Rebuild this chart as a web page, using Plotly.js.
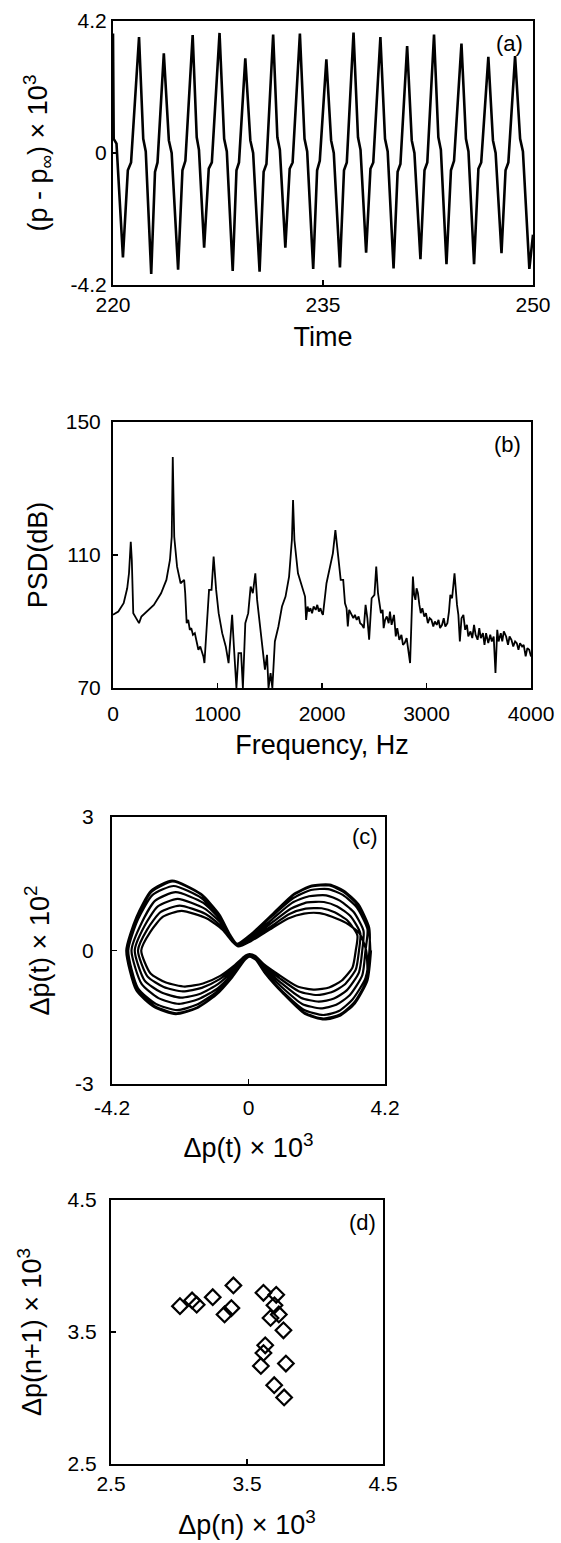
<!DOCTYPE html>
<html>
<head>
<meta charset="utf-8">
<script src="https://cdn.plot.ly/plotly-3.0.1.min.js"></script>
<style>html,body{margin:0;padding:0;background:#fff;}#chart{width:561px;height:1543px;}</style>
</head>
<body>
<div id="chart"></div>
<script>
// ---------- Panel (a): pressure time series ----------
const timeT = [220.00,220.05,220.25,220.71,221.06,221.29,221.86,222.16,222.34,222.73,223.00,223.18,223.63,223.99,224.19,224.65,224.96,225.17,225.69,225.98,226.14,226.51,226.84,227.06,227.61,227.94,228.13,228.55,228.82,229.00,229.45,229.81,230.01,230.47,230.76,230.96,231.44,231.74,231.92,232.31,232.62,232.83,233.35,233.68,233.87,234.30,234.58,234.77,235.24,235.58,235.77,236.21,236.50,236.70,237.18,237.50,237.68,238.08,238.39,238.59,239.10,239.43,239.62,240.04,240.33,240.53,241.01,241.34,241.53,241.96,242.25,242.45,242.93,243.24,243.42,243.82,244.14,244.36,244.89,245.21,245.39,245.79,246.10,246.30,246.81,247.14,247.33,247.75,248.04,248.24,248.72,249.08,249.28,249.74,250.00];
const timeP = [3.80,0.45,0.30,-3.32,-0.55,-0.30,3.69,0.45,0.05,-3.85,-0.60,-0.30,3.17,0.40,0.00,-3.71,-0.55,-0.25,3.75,0.50,0.10,-3.01,-0.50,-0.30,3.82,0.45,0.05,-3.75,-0.55,-0.30,3.01,0.40,0.00,-3.78,-0.60,-0.35,3.77,0.50,0.10,-3.01,-0.50,-0.30,3.80,0.45,0.05,-3.69,-0.55,-0.25,2.98,0.40,0.00,-3.64,-0.55,-0.30,3.83,0.50,0.10,-3.17,-0.50,-0.30,3.69,0.45,0.05,-3.67,-0.60,-0.35,3.40,0.40,0.00,-3.38,-0.55,-0.30,3.77,0.50,0.10,-3.54,-0.55,-0.25,3.48,0.45,0.05,-3.54,-0.50,-0.30,3.06,0.40,0.00,-3.19,-0.55,-0.30,3.08,0.45,0.05,-3.69,-2.60];
const timeTicks = [220, 235, 250];
const pTicks = [-4.2, 0, 4.2];
const pTickText = ["-4.2", "0", "4.2"];

// ---------- Panel (b): power spectral density ----------
const freqHz = [
 0,51,102,136,153,170,180,194,221,249,272,323,391,460,511,545,562,572,586,613,647,681,691,
 705,720,735,749,765,783,800,817,835,851,865,875,902,919,943,963,987,1011,1045,1079,1106,1123,1140,1157,1181,1201,1226,1243,
 1266,1294,1317,1338,1362,1379,1406,1430,1454,1474,1488,1508,1525,1549,1583,1617,1651,1685,1712,1723,1736,1770,1815,
 1838,1848,1862,1875,1889,1905,1920,1940,1955,1970,1985,2000,2009,2043,2077,2104,2128,2155,2179,2203,
 2220,2235,2247,2260,2281,2300,2315,2332,2350,2365,2383,2400,2417,2434,2451,2462,2475,2502,2519,2536,2550,2564,2580,2590,
 2604,2620,2638,2650,2666,2680,2689,2706,2720,2740,2760,2775,2791,2810,2826,2843,2856,2870,2882,2894,2905,2918,2932,2945,
 2960,2979,2995,3013,3030,3047,3065,3080,3098,3115,3130,3149,3165,3180,3200,3215,3228,3245,3268,3280,3292,3305,3319,3335,
 3353,3370,3387,3400,3421,3438,3455,3470,3489,3505,3520,3540,3555,3570,3591,3610,3625,3643,3660,3677,3690,3711,3725,3740,
 3762,3780,3795,3813,3830,3848,3864,3880,3895,3915,3930,3949,3965,3983,4000];
const psdDb = [
 92,93,95.5,100,104.5,114,108.5,92.5,91,89.5,91.5,93,95,98.5,102.5,108.5,115.5,139.5,115.5,106.5,101.5,102.5,98.5,
 89.5,90.5,87.5,88,86,86.5,84,81.5,82.5,81,79.5,77.5,92.5,99.5,99.5,109.5,99.5,92.5,86.5,82.5,77.5,83.5,92,82.5,70,80.5,80.5,70,
 89.5,92.5,100.5,98.5,104.5,96.5,89.5,83.5,75.5,80,70,74.5,70,84,88.5,94.5,97.5,103.5,114.5,126.5,114.5,104.5,99.5,
 97.5,90.5,94.5,93,94,92.5,94.5,93.5,95,93,94,92.5,92,101.5,106,110.5,117.5,109.5,102.5,102.5,
 95.5,94,88.5,93.5,92,91,92,90.5,91.5,89.5,89,88,95,91,84.5,92,97,98,106.5,98.5,96,92.5,93.5,88,
 90.5,91.5,89.5,93,89,91.5,92,85.5,88,84.5,86,83,83.5,85,81.5,77.5,90,103.5,98,96.5,100,98.5,95,92.5,
 94,91.5,92.5,89.5,91,90.5,88.5,90,89,90.5,88,89,91,88.5,89.5,93,98,97,104.5,99,95,92,84,91,
 92,87.5,89,85.5,87,85,89,86,84.5,88,85,86.5,83,86.5,83.5,86,84,85.5,74.5,87.5,84,86.5,84,87,
 85.5,83,85.5,84.5,82.5,84,83.5,81.5,83.5,82.5,83,79.5,82,81.5,79.5];
const freqTicks = [0, 1000, 2000, 3000, 4000];
const psdTicks = [70, 110, 150];

// ---------- Panel (c): phase portrait (successive cycles) ----------
const phaseX = [
 3.77,3.66,3.27,2.83,2.33,1.73,1.07,0.52,0.24,0.04,-0.10,-0.50,-1.00,-1.60,-2.24,-2.90,-3.45,-3.76,-3.45,-3.00,-2.35,-1.46,-0.91,-0.58,-0.36,0.08,0.74,1.40,1.95,2.50,2.94,3.38,3.71,
 3.72,3.60,3.20,2.78,2.30,1.70,1.05,0.50,0.22,0.03,-0.12,-0.50,-1.00,-1.60,-2.20,-2.85,-3.40,-3.70,-3.40,-2.95,-2.30,-1.45,-0.90,-0.57,-0.34,0.06,0.72,1.38,1.92,2.45,2.90,3.33,3.66,
 3.60,3.50,3.12,2.70,2.22,1.65,1.02,0.50,0.23,0.03,-0.10,-0.48,-0.95,-1.53,-2.14,-2.77,-3.29,-3.60,-3.29,-2.87,-2.24,-1.39,-0.87,-0.55,-0.34,0.08,0.71,1.34,1.86,2.39,2.81,3.23,3.54,
 3.50,3.40,3.03,2.63,2.16,1.61,0.99,0.48,0.22,0.03,-0.09,-0.47,-0.93,-1.48,-2.08,-2.69,-3.20,-3.50,-3.20,-2.79,-2.18,-1.35,-0.84,-0.54,-0.33,0.07,0.69,1.30,1.81,2.32,2.73,3.14,3.44,
 3.40,3.30,2.95,2.55,2.10,1.56,0.97,0.47,0.22,0.03,-0.09,-0.45,-0.90,-1.44,-2.02,-2.61,-3.11,-3.40,-3.11,-2.71,-2.12,-1.32,-0.82,-0.52,-0.32,0.07,0.67,1.26,1.76,2.25,2.65,3.05,3.35,
 3.30,3.20,2.86,2.48,2.04,1.51,0.94,0.46,0.21,0.03,-0.09,-0.44,-0.87,-1.40,-1.96,-2.54,-3.02,-3.30,-3.02,-2.63,-2.06,-1.28,-0.80,-0.51,-0.31,0.07,0.65,1.22,1.71,2.19,2.57,3.00,3.42,
 3.62,3.64,3.25,2.81,2.31,1.72,1.06,0.51,0.23,0.04,-0.10,-0.49,-0.99,-1.58,-2.22,-2.88,-3.43,-3.74,-3.43,-2.98,-2.33,-1.45,-0.90,-0.57,-0.35,0.08,0.73,1.39,1.94,2.48,2.92,3.36,3.69,3.75];
const phaseY = [
 0.00,-0.67,-1.19,-1.46,-1.55,-1.42,-0.97,-0.52,-0.22,-0.14,-0.20,-0.60,-1.00,-1.30,-1.43,-1.27,-0.90,0.00,0.75,1.34,1.57,1.27,0.82,0.37,0.15,0.37,0.82,1.27,1.46,1.48,1.34,1.04,0.52,
 0.00,-0.62,-1.10,-1.36,-1.45,-1.33,-0.92,-0.50,-0.20,-0.12,-0.20,-0.56,-0.94,-1.22,-1.34,-1.20,-0.85,0.00,0.70,1.25,1.45,1.18,0.76,0.35,0.14,0.34,0.77,1.18,1.36,1.38,1.25,0.97,0.48,
 0.00,-0.56,-1.00,-1.22,-1.30,-1.20,-0.82,-0.44,-0.18,-0.12,-0.17,-0.51,-0.85,-1.09,-1.20,-1.07,-0.75,0.00,0.62,1.12,1.31,1.07,0.69,0.31,0.13,0.31,0.69,1.07,1.22,1.24,1.12,0.87,0.44,
 0.00,-0.49,-0.89,-1.08,-1.15,-1.06,-0.72,-0.39,-0.16,-0.10,-0.15,-0.45,-0.75,-0.97,-1.06,-0.94,-0.67,0.00,0.55,0.99,1.16,0.94,0.61,0.28,0.12,0.28,0.61,0.94,1.08,1.09,0.99,0.77,0.39,
 0.00,-0.43,-0.77,-0.94,-1.00,-0.92,-0.63,-0.34,-0.14,-0.09,-0.13,-0.39,-0.65,-0.84,-0.92,-0.82,-0.58,0.00,0.48,0.86,1.01,0.82,0.53,0.24,0.10,0.24,0.53,0.82,0.94,0.95,0.86,0.67,0.34,
 0.00,-0.38,-0.68,-0.83,-0.88,-0.81,-0.55,-0.30,-0.12,-0.08,-0.11,-0.34,-0.57,-0.74,-0.81,-0.72,-0.51,0.00,0.42,0.76,0.89,0.72,0.47,0.21,0.09,0.21,0.47,0.72,0.83,0.84,0.76,0.62,0.38,
 0.00,-0.65,-1.17,-1.44,-1.53,-1.40,-0.96,-0.51,-0.21,-0.13,-0.20,-0.59,-0.99,-1.28,-1.41,-1.25,-0.89,0.00,0.74,1.32,1.55,1.25,0.81,0.36,0.15,0.36,0.81,1.25,1.44,1.46,1.32,1.02,0.51,0.00];
const dpTicks = [-4.2, 0, 4.2];
const dpTickText = ["-4.2", "0", "4.2"];
const dpdotTicks = [-3, 0, 3];
const dpdotTickText = ["-3", "0", "3"];

// ---------- Panel (d): return map of peaks ----------
const peakN  = [3.007,3.096,3.130,3.248,3.400,3.335,3.385,3.621,3.715,3.702,3.734,3.673,3.768,3.634,3.621,3.602,3.786,3.700,3.773];
const peakN1 = [3.696,3.739,3.707,3.764,3.853,3.633,3.681,3.797,3.782,3.702,3.633,3.606,3.513,3.399,3.341,3.243,3.261,3.097,3.004];
const mapTicks = [2.5, 3.5, 4.5];
const mapTickText = ["2.5", "3.5", "4.5"];

// ---------- Figure ----------
const FONT = "Liberation Sans, Arial, Helvetica, sans-serif";
const W = 561, H = 1543;
function dx(a, b) { return [a / W, b / W]; }
function dy(top, bottom) { return [1 - bottom / H, 1 - top / H]; }

const axisBase = {
  showline: true, mirror: true, linecolor: "#000", linewidth: 2,
  ticks: "inside", ticklen: 5, tickwidth: 1.5, tickcolor: "#000",
  showgrid: false, zeroline: false,
  tickfont: { family: FONT, size: 21, color: "#000" },
  fixedrange: true
};
function ax(extra) { return Object.assign({}, axisBase, extra); }

const traces = [
  { x: timeT, y: timeP, type: "scatter", mode: "lines", xaxis: "x", yaxis: "y",
    line: { color: "#000", width: 2.6 }, hoverinfo: "skip" },
  { x: freqHz, y: psdDb, type: "scatter", mode: "lines", xaxis: "x2", yaxis: "y2",
    line: { color: "#000", width: 1.8 }, hoverinfo: "skip" },
  { x: phaseX, y: phaseY, type: "scatter", mode: "lines", xaxis: "x3", yaxis: "y3",
    line: { color: "#000", width: 2.2, shape: "spline", smoothing: 0.6 }, hoverinfo: "skip" },
  { x: peakN, y: peakN1, type: "scatter", mode: "markers", xaxis: "x4", yaxis: "y4",
    marker: { symbol: "diamond-open", size: 12, color: "#000", line: { width: 2.2, color: "#000" } }, hoverinfo: "skip" }
];

const titleFont = { family: FONT, size: 27, color: "#000" };
const letterFont = { family: FONT, size: 22, color: "#000" };

const layout = {
  width: W, height: H,
  margin: { l: 0, r: 0, t: 0, b: 0 },
  paper_bgcolor: "#fff", plot_bgcolor: "#fff",
  showlegend: false,
  xaxis: ax({ domain: dx(113, 533), anchor: "y", range: [220, 250], tickvals: timeTicks,
    title: { text: "Time", font: titleFont, standoff: 12 } }),
  yaxis: ax({ domain: dy(21, 285), anchor: "x", range: [-4.2, 4.2], tickvals: pTicks, ticktext: pTickText,
    title: { text: "(p - p<sub>∞</sub>) × 10<sup>3</sup>", font: titleFont, standoff: 15 } }),
  xaxis2: ax({ domain: dx(113, 531), anchor: "y2", range: [0, 4000], tickvals: freqTicks, ticklabelstandoff: 6,
    title: { text: "Frequency, Hz", font: titleFont, standoff: 11 } }),
  yaxis2: ax({ domain: dy(422, 688), anchor: "x2", range: [70, 150], tickvals: psdTicks, ticklabelstandoff: 6,
    title: { text: "PSD(dB)", font: titleFont, standoff: 10 } }),
  xaxis3: ax({ domain: dx(112, 385), anchor: "y3", range: [-4.2, 4.2], tickvals: dpTicks, ticktext: dpTickText, ticklabelstandoff: 4,
    title: { text: "Δp(t) × 10<sup>3</sup>", font: titleFont, standoff: 20 } }),
  yaxis3: ax({ domain: dy(817, 1084), anchor: "x3", range: [-3, 3], tickvals: dpdotTicks, ticktext: dpdotTickText, ticklabelstandoff: 12,
    title: { text: "Δṗ(t) × 10<sup>2</sup>", font: titleFont, standoff: 18 } }),
  xaxis4: ax({ domain: dx(111, 383), anchor: "y4", range: [2.5, 4.5], tickvals: mapTicks, ticktext: mapTickText,
    title: { text: "Δp(n) × 10<sup>3</sup>", font: titleFont, standoff: 21 } }),
  yaxis4: ax({ domain: dy(1200, 1464), anchor: "x4", range: [2.5, 4.5], tickvals: mapTicks, ticktext: mapTickText, ticklabelstandoff: 8,
    title: { text: "Δp(n+1) × 10<sup>3</sup>", font: titleFont, standoff: 18 } }),
  annotations: [
    { text: "(a)", xref: "x domain", yref: "y domain", x: 0.98, y: 0.97, xanchor: "right", yanchor: "top", showarrow: false, font: letterFont },
    { text: "(b)", xref: "x2 domain", yref: "y2 domain", x: 0.98, y: 0.97, xanchor: "right", yanchor: "top", showarrow: false, font: letterFont },
    { text: "(c)", xref: "x3 domain", yref: "y3 domain", x: 0.98, y: 0.98, xanchor: "right", yanchor: "top", showarrow: false, font: letterFont },
    { text: "(d)", xref: "x4 domain", yref: "y4 domain", x: 0.98, y: 0.97, xanchor: "right", yanchor: "top", showarrow: false, font: letterFont }
  ]
};

Plotly.newPlot("chart", traces, layout, { staticPlot: true, displayModeBar: false });
</script>
</body>
</html>
